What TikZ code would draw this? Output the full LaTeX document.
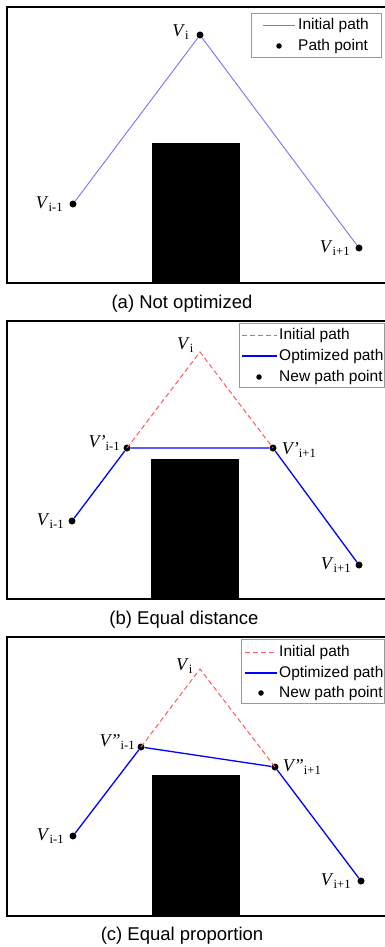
\documentclass[tikz,border=0pt]{standalone}
\usepackage{fontspec}
\setmainfont{Liberation Serif}
\newfontfamily\legfont{Liberation Sans}
\usetikzlibrary{positioning}
\tikzset{
  dot/.style={circle, fill=black, inner sep=0pt, minimum size=7pt},
  vlabel/.style={inner sep=1pt, font=\fontsize{18}{20}\selectfont},
  legtext/.style={anchor=west, inner sep=0pt, font=\legfont\fontsize{15.5}{17}\selectfont},
  captext/.style={font=\legfont\fontsize{18.5}{20}\selectfont},
  panelframe/.style={line width=2pt},
  legbox/.style={draw=gray!80, line width=0.8pt, fill=white},
  oldpath/.style={blue!55, line width=0.9pt},
  initpath/.style={red!65, dash pattern=on 5pt off 3pt, line width=1pt},
  optpath/.style={blue, line width=1.3pt},
}
\begin{document}
\begin{tikzpicture}[x=1pt, y=-1pt]
      \useasboundingbox (0,0) rectangle (385,947);

      % (a) frame and obstacle
      \draw[panelframe] (385,7) -- (7,7) -- (7,283) -- (385,283);
      \fill[black] (152,143) rectangle (240,283);

      % (a) path points
      \node[dot] (aVim) at (73,204) {};
      \node[dot] (aVi) at (200,35) {};
      \node[dot] (aVip) at (359,248) {};
      \draw[oldpath] (aVim) -- (aVi) -- (aVip);
      \node[vlabel, left=5pt of aVim] {\textit{V}\textsubscript{i-1}};
      \node[vlabel, left=6pt of aVi, yshift=3pt] {\textit{V}\textsubscript{i}};
      \node[vlabel, left=4pt of aVip] {\textit{V}\textsubscript{i+1}};

      % (a) legend
      \draw[legbox] (251,13) rectangle (381,57);
      \coordinate (aL1) at (263,25);
      \coordinate (aL2) at (295,25);
      \draw[oldpath] (aL1) -- (aL2);
      \node[dot, minimum size=5.5pt] (aLdot) at (279,46) {};
      \node[legtext] at (298,25) {Initial path};
      \node[legtext] at (298,46) {Path point};

      \node[captext] (capa) at (182,304) {(a) Not optimized};

      % (b) frame and obstacle
      \draw[panelframe] (385,321) -- (7,321) -- (7,599) -- (385,599);
      \fill[black] (151,459) rectangle (239,599);

      % (b) path points
      \node[dot] (bVim) at (72,521) {};
      \node[dot] (bWm) at (127,448) {};
      \node[dot] (bWp) at (273,448) {};
      \node[dot] (bVip) at (359,565) {};
      \coordinate (bVi) at (200,352);
      \draw[initpath] (bWm.center) -- (bVi) -- (bWp.center);
      \draw[optpath] (bVim) -- (bWm) -- (bWp) -- (bVip);
      \node[vlabel, left=5pt of bVi, yshift=7pt] {\textit{V}\textsubscript{i}};
      \node[vlabel, left=2pt of bWm, yshift=5pt] {\textit{V'}\textsubscript{i-1}};
      \node[vlabel, right=4pt of bWp, yshift=-2pt] {\textit{V'}\textsubscript{i+1}};
      \node[vlabel, left=3pt of bVim] {\textit{V}\textsubscript{i-1}};
      \node[vlabel, left=3pt of bVip] {\textit{V}\textsubscript{i+1}};

      % (b) legend
      \draw[legbox] (239,323) rectangle (384,387);
      \coordinate (bL1) at (242,335);
      \coordinate (bL2) at (277,335);
      \coordinate (bL3) at (242,356);
      \coordinate (bL4) at (277,356);
      \draw[initpath] (bL1) -- (bL2);
      \draw[optpath] (bL3) -- (bL4);
      \node[dot, minimum size=5.5pt] (bLdot) at (259,377) {};
      \node[legtext] at (279,335) {Initial path};
      \node[legtext] at (279,356) {Optimized path};
      \node[legtext] at (279,377) {New path point};

      \node[captext] (capb) at (184,620) {(b) Equal distance};

      % (c) frame and obstacle
      \draw[panelframe] (385,637) -- (7,637) -- (7,916) -- (385,916);
      \fill[black] (152,775) rectangle (240,916);

      % (c) path points
      \node[dot] (cVim) at (73,836) {};
      \node[dot] (cWm) at (141,747) {};
      \node[dot] (cWp) at (275,767) {};
      \node[dot] (cVip) at (361,881) {};
      \coordinate (cVi) at (200,669);
      \draw[initpath] (cWm.center) -- (cVi) -- (cWp.center);
      \draw[optpath] (cVim) -- (cWm) -- (cWp) -- (cVip);
      \node[vlabel, left=6pt of cVi, yshift=3pt] {\textit{V}\textsubscript{i}};
      \node[vlabel, left=1pt of cWm, yshift=5pt] {\textit{V''}\textsubscript{i-1}};
      \node[vlabel, right=3pt of cWp] {\textit{V''}\textsubscript{i+1}};
      \node[vlabel, left=4pt of cVim] {\textit{V}\textsubscript{i-1}};
      \node[vlabel, left=5pt of cVip] {\textit{V}\textsubscript{i+1}};

      % (c) legend
      \draw[legbox] (241,639) rectangle (384,703);
      \coordinate (cL1) at (245,652);
      \coordinate (cL2) at (277,652);
      \coordinate (cL3) at (245,673);
      \coordinate (cL4) at (277,673);
      \draw[initpath] (cL1) -- (cL2);
      \draw[optpath] (cL3) -- (cL4);
      \node[dot, minimum size=5.5pt] (cLdot) at (261,693) {};
      \node[legtext] at (279,652) {Initial path};
      \node[legtext] at (279,673) {Optimized path};
      \node[legtext] at (279,693) {New path point};

      \node[captext] (capc) at (182,936) {(c) Equal proportion};
    \end{tikzpicture}
\end{document}
